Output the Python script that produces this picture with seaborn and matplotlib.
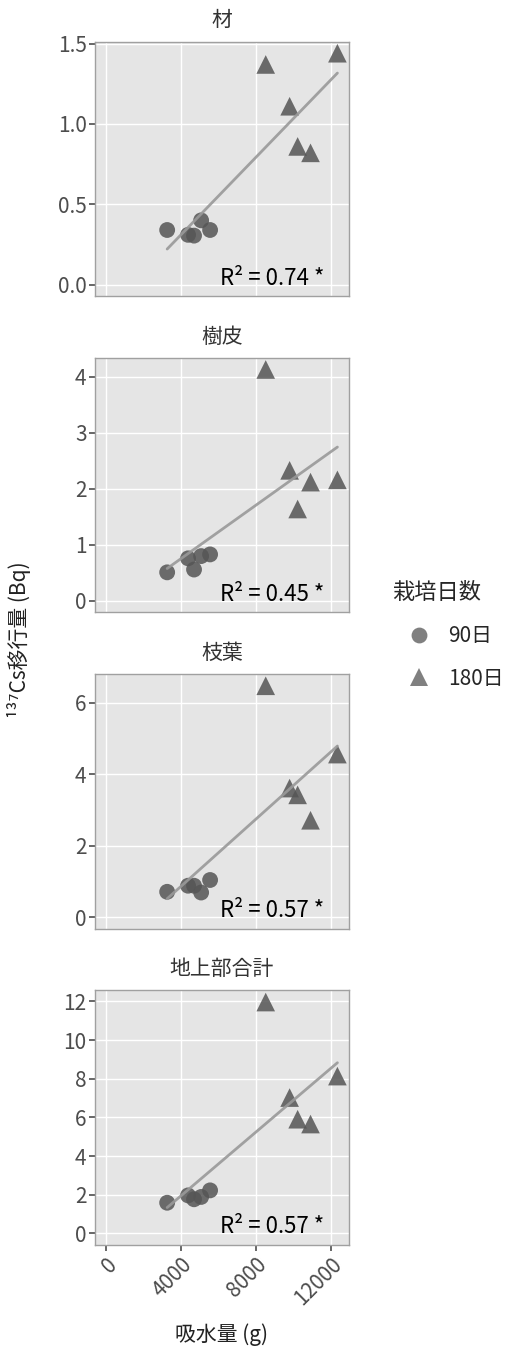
import matplotlib.pyplot as plt
import numpy as np
import pandas as pd
import seaborn as sns

# 吸水量 (g), shared by all panels: 90日 trees then 180日 trees
water = [3250, 4370, 4690, 5070, 5550, 8530, 9810, 10240, 10930, 12370]
days = ['90日'] * 5 + ['180日'] * 5

wood = [0.34, 0.31, 0.305, 0.40, 0.34, 1.37, 1.11, 0.86, 0.82, 1.44]
bark = [0.51, 0.76, 0.56, 0.80, 0.83, 4.13, 2.33, 1.64, 2.12, 2.16]
leaf = [0.71, 0.88, 0.88, 0.69, 1.04, 6.47, 3.61, 3.42, 2.71, 4.56]
total = [1.59, 1.97, 1.77, 1.89, 2.23, 11.97, 7.03, 5.91, 5.66, 8.14]

parts = ['材', '樹皮', '枝葉', '地上部合計']
r2_labels = ['R² = 0.74 *', 'R² = 0.45 *', 'R² = 0.57 *', 'R² = 0.57 *']
y_ticks = [[0.0, 0.5, 1.0, 1.5], [0, 1, 2, 3, 4], [0, 2, 4, 6], [0, 2, 4, 6, 8, 10, 12]]
x_ticks = [0, 4000, 8000, 12000]

rows = []
for part, vals in zip(parts, [wood, bark, leaf, total]):
    for w, d, v in zip(water, days, vals):
        rows.append({'part': part, 'water': w, 'day': d, 'value': v})
data = pd.DataFrame(rows)

sns.set_theme(style='darkgrid', rc={
    'axes.facecolor': '#e5e5e5', 'grid.color': 'white', 'grid.linewidth': 1.0,
    'axes.edgecolor': '#a0a0a0', 'axes.linewidth': 1.0,
    'xtick.bottom': True, 'ytick.left': True,
    'xtick.color': '#555555', 'ytick.color': '#555555',
    'xtick.labelcolor': '#4d4d4d', 'ytick.labelcolor': '#4d4d4d',
    'xtick.major.size': 4, 'ytick.major.size': 4,
})
plt.rcParams['font.family'] = ['Noto Sans CJK JP', 'DejaVu Sans']

fig, axes = plt.subplots(4, 1, figsize=(5.05, 13.52), dpi=100, sharex=True)
fig.subplots_adjust(left=0.188, right=0.691, top=0.9692, bottom=0.0791, hspace=0.2424)

xmax = max(water)
for i, (ax, part) in enumerate(zip(axes, parts)):
    sub = data[data['part'] == part]
    sns.scatterplot(data=sub, x='water', y='value', style='day', size='day',
                    markers={'90日': 'o', '180日': '^'}, style_order=['90日', '180日'],
                    sizes={'90日': 130, '180日': 180}, size_order=['90日', '180日'],
                    color='#555555', alpha=0.85, linewidth=0, ax=ax, legend=(i == 0))
    sns.regplot(data=sub, x='water', y='value', scatter=False, ci=None, truncate=True,
                line_kws={'color': '#999999', 'lw': 2, 'alpha': 0.9}, ax=ax)
    ymax = sub['value'].max()
    ax.set_ylim(-0.05 * ymax, ymax * 1.05)
    ax.set_xlim(-0.05 * xmax, xmax * 1.05)
    ax.set_yticks(y_ticks[i])
    if i == 0:
        ax.set_yticklabels([f'{t:.1f}' for t in y_ticks[i]])
    ax.set_xticks(x_ticks)
    ax.tick_params(labelsize=15, pad=2)
    if i < 3:
        ax.tick_params(axis='x', bottom=False)
    ax.set_title(part, fontsize=15, color='#333333', pad=11)
    ax.set_xlabel('')
    ax.set_ylabel('')
    ax.text(8880, 0, r2_labels[i], ha='center', va='baseline', fontsize=16, color='black')
    for s in ax.spines.values():
        s.set_visible(True)

handles, labels = axes[0].get_legend_handles_labels()
axes[0].get_legend().remove()
for h in handles:
    h.set_alpha(0.75)
leg = fig.legend(handles, labels, title='栽培日数', loc='center', bbox_to_anchor=(0.887, 0.530),
                 frameon=False, fontsize=15, title_fontsize=16, labelspacing=1.0,
                 handlelength=2.6, handletextpad=0.1, markerscale=1.0)
leg._legend_box.align = 'left'

plt.setp(axes[-1].get_xticklabels(), rotation=45, ha='right', rotation_mode='anchor')
axes[-1].set_xlabel('吸水量 (g)', fontsize=15, color='#222222', labelpad=10)
fig.text(0.038, 0.527, '¹³⁷Cs移行量 (Bq)', rotation=90, ha='center', va='center',
         fontsize=15, color='#222222')

plt.savefig('out.png', dpi=100)
